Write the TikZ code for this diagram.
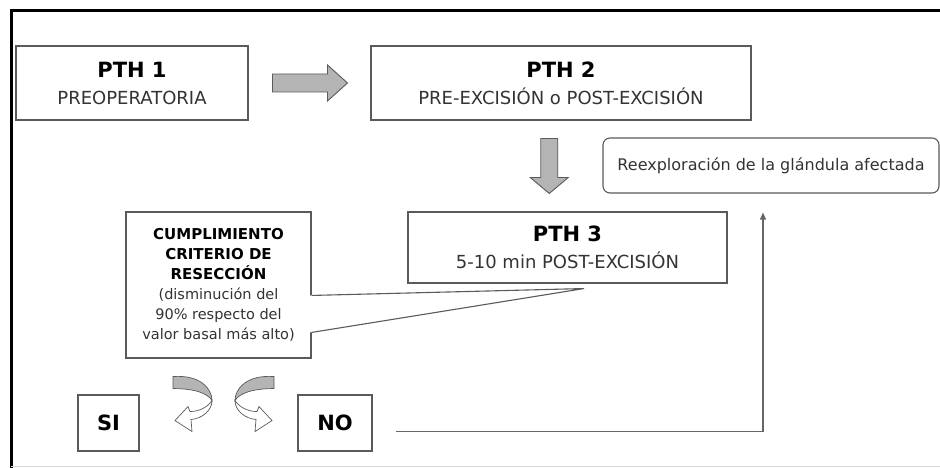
\documentclass[tikz,border=0pt]{standalone}
\usepackage{fontspec}
\setmainfont{DejaVu Sans}
\usetikzlibrary{arrows.meta,positioning,calc}
\definecolor{gris}{HTML}{B4B4B4}
\definecolor{grisosc}{HTML}{5A5A5A}
\definecolor{texto}{HTML}{333333}
\newcommand{\fuentetit}{\fontsize{21}{27}\selectfont\bfseries\color{black}}
\newcommand{\fuentecrit}{\fontsize{15}{20}\selectfont\bfseries\color{black}}

\begin{document}
\begin{tikzpicture}[x=1pt, y=-1pt,
  caja/.style={draw=grisosc, line width=1.1pt, fill=white, align=center, inner sep=0pt, text=texto, font=\fontsize{18}{27}\selectfont},
  resp/.style={caja, font=\fontsize{21}{24}\selectfont\bfseries, text=black},
  bloque/.style={draw=grisosc, fill=gris, line width=0.9pt, line join=miter},
  flecha/.style={-{Triangle[length=7pt,width=6pt]}, black!60, line width=1.2pt},
  flechader/.pic={\draw[bloque] (-37,-9) -- (18,-9) -- (18,-18) -- (38,0) -- (18,18) -- (18,9) -- (-37,9) -- cycle;},
  flechaaba/.pic={\draw[bloque] (-8.5,-27.5) -- (8.5,-27.5) -- (8.5,11.5) -- (19,11.5) -- (0,27.5) -- (-19,11.5) -- (-8.5,11.5) -- cycle;},
  giro/.pic={
    \draw[bloque, line width=0.7pt] (-39,-24) -- (-39,-12) .. controls (-17,-12) and (-4,-7) .. (0,0) .. controls (0,-12) and (-12,-26) .. (-39,-24) -- cycle;
    \draw[grisosc, fill=white, line width=0.7pt] (0,0) .. controls (0,10) and (-10,18) .. (-21,19) -- (-20,31) -- (-37,20) -- (-24,6) -- (-22,11) .. controls (-12,11) and (-4,6) .. (0,0) -- cycle;}]
\useasboundingbox (0,0) rectangle (940,468);
\fill[white] (0,0) rectangle (940,468);
\draw[line width=3pt] (940,11) -- (11,11) -- (11,468);
\draw[black!15, line width=0.8pt] (11,466.5) -- (940,466.5);

\node[caja, minimum width=232pt, minimum height=74pt] (pth1) at (132,83) {{\fuentetit PTH 1}\\PREOPERATORIA};
\node[caja, minimum width=380pt, minimum height=74pt] (pth2) at (561,83) {{\fuentetit PTH 2}\\PRE-EXCISIÓN o POST-EXCISIÓN};
\node[caja, minimum width=319pt, minimum height=71pt] (pth3) at (567.5,247.5) {{\fuentetit PTH 3}\\5-10 min POST-EXCISIÓN};
\node[caja, rounded corners=7pt, minimum width=336pt, minimum height=55pt, font=\fontsize{16}{20}\selectfont] (reexp) at (771,165.5) {Reexploración de la glándula afectada};
\node[caja, minimum width=185pt, minimum height=146pt, font=\fontsize{14.5}{20}\selectfont] (crit) at (218.5,285)
  {{\fuentecrit CUMPLIMIENTO}\\{\fuentecrit CRITERIO DE}\\{\fuentecrit RESECCIÓN}\\(disminución del\\90\% respecto del\\valor basal más alto)};
\node[resp, minimum width=61pt, minimum height=56pt] (si) at (108.5,423) {SI};
\node[resp, minimum width=74pt, minimum height=56pt] (no) at (335,423) {NO};

\coordinate (punta) at ($(pth3.south)+(16.5,5)$);
\coordinate (ca) at ([yshift=-84pt]crit.north east);
\coordinate (cb) at ([yshift=-121pt]crit.north east);
\fill[white] ($(ca)+(-1.5,0)$) -- (punta) -- ($(cb)+(-1.5,0)$) -- cycle;
\draw[grisosc, line width=1.1pt, line join=miter] (ca) -- (punta) -- (cb);

\path (pth1.east) -- (pth2.west) coordinate[midway] (m12);
\path (pth2.south) -- (pth3.north) coordinate[midway] (m23);
\pic at (m12) {flechader};
\pic at ([xshift=-15pt]m23) {flechaaba};
\pic at ($(crit.south)+(-6.5,42)$) {giro};
\pic[xscale=-1] at ($(crit.south)+(16.5,42)$) {giro};

\draw[flecha] ([xshift=23pt,yshift=-8.5pt]no.east) -| ([xshift=-8pt,yshift=-19pt]reexp.south);
\end{tikzpicture}
\end{document}
